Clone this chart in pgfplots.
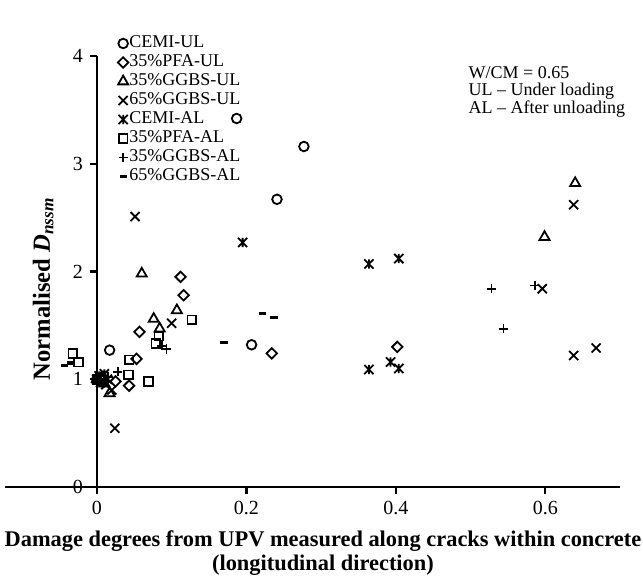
\documentclass[border=0pt]{standalone}
\usepackage{fontspec}
\setmainfont{Liberation Serif}
\usepackage{pgfplots}
\pgfplotsset{compat=1.18}
\usetikzlibrary{calc}

% Excel-like star: a cross with a vertical bar
\pgfdeclareplotmark{xstar}{%
  \pgfpathmoveto{\pgfqpoint{-\pgfplotmarksize}{-\pgfplotmarksize}}%
  \pgfpathlineto{\pgfqpoint{\pgfplotmarksize}{\pgfplotmarksize}}%
  \pgfpathmoveto{\pgfqpoint{-\pgfplotmarksize}{\pgfplotmarksize}}%
  \pgfpathlineto{\pgfqpoint{\pgfplotmarksize}{-\pgfplotmarksize}}%
  \pgfpathmoveto{\pgfqpoint{0pt}{-\pgfplotmarksize}}%
  \pgfpathlineto{\pgfqpoint{0pt}{\pgfplotmarksize}}%
  \pgfusepathqstroke}

\begin{document}
\begin{tikzpicture}
\begin{axis}[
    scale only axis,
    width=307.5pt, height=215.5pt,
    xmin=-0.123, xmax=0.70, ymin=0, ymax=4,
    axis x line=bottom, axis y line=middle,
    x axis line style={-}, y axis line style={-},
    axis line style={line width=1.2pt},
    tick align=outside,
    major tick length=3.5pt,
    tick style={line width=1.2pt, black},
    xtick={0,0.2,0.4,0.6}, ytick={0,1,2,3,4},
    hide obscured x ticks=false, hide obscured y ticks=false,
    /pgf/number format/assume math mode=true,
    ticklabel style={font=\fontsize{10}{12}\selectfont},
    every axis x label/.style={at={(axis description cs:0.517,0)}, anchor=north, yshift=-18.5pt,
        align=center, font=\fontsize{11.2}{12}\selectfont\bfseries},
    every axis y label/.style={at={(axis description cs:0.062,0.46)}, rotate=90, anchor=center,
        font=\fontsize{12.3}{14}\selectfont\bfseries},
    xlabel={Damage degrees from UPV measured along cracks within concrete\\(longitudinal direction)},
    ylabel={Normalised \textit{D}\textsubscript{\textit{nssm}}},
    legend style={at={(axis description cs:0.183,1.052)}, anchor=north west, draw=none, fill=none,
        font=\fontsize{9}{9}\selectfont, inner sep=0pt, row sep=0pt,
        nodes={inner sep=0.5pt, text height=6.5pt, text depth=2pt},
        /tikz/every odd column/.append style={column sep=0pt}},
    legend cell align=left,
    legend image code/.code={\draw[#1] plot coordinates {(0pt,0pt)};},
    every axis plot/.append style={only marks, black, line width=0.9pt, mark options={solid}},
    clip=false,
]
\addplot[mark=o, mark size=2.4pt] coordinates {
    (0,1) (0.006,1.02) (0.017,1.27) (0.187,3.42) (0.277,3.16) (0.241,2.67) (0.207,1.32)
};
\addplot[mark=square, mark size=1.85pt, mark options={rotate=45}] coordinates {
    (0,1) (0.008,0.99) (0.025,0.98) (0.043,0.94) (0.053,1.19) (0.057,1.44)
    (0.112,1.95) (0.116,1.78) (0.234,1.24) (0.402,1.30)
};
\addplot[mark=triangle, mark size=2.9pt] coordinates {
    (0,1) (0.010,0.96) (0.017,0.87) (0.060,1.98) (0.076,1.56) (0.084,1.47)
    (0.107,1.64) (0.599,2.32) (0.640,2.82)
};
\addplot[mark=x, mark size=3.2pt] coordinates {
    (0,1) (0.012,0.95) (0.020,0.90) (0.024,0.545) (0.051,2.51) (0.100,1.52)
    (0.596,1.84) (0.638,2.62) (0.638,1.22) (0.668,1.29)
};
\addplot[mark=xstar, mark size=2.3pt] coordinates {
    (0,1) (0.003,1.03) (0.005,0.97) (0.010,1.05) (0.014,1.0) (0.195,2.27) (0.364,2.07) (0.404,2.12)
    (0.393,1.16) (0.404,1.10) (0.364,1.09)
};
\addplot[mark=square, mark size=2.2pt] coordinates {
    (0,1) (0.004,1.01) (-0.032,1.24) (-0.025,1.16) (0.042,1.04) (0.043,1.18) (0.069,0.98)
    (0.079,1.33) (0.083,1.40) (0.127,1.55)
};
\addplot[mark=+, mark size=2.3pt] coordinates {
    (0,1) (0.015,1.02) (0.028,1.07) (0.087,1.31) (0.093,1.28) (0.528,1.84)
    (0.586,1.87) (0.544,1.47)
};
\addplot[mark=-, mark size=1.8pt, line width=1.6pt] coordinates {
    (0,1) (0.002,0.99) (-0.043,1.13) (-0.035,1.15) (0.170,1.34) (0.222,1.61) (0.237,1.57)
};
\legend{CEMI-UL, 35\%PFA-UL, 35\%GGBS-UL, 65\%GGBS-UL, CEMI-AL, 35\%PFA-AL, 35\%GGBS-AL, 65\%GGBS-AL}
\node[anchor=north west, align=left, inner sep=0pt, font=\fontsize{9}{8.8}\selectfont]
    at (axis cs:0.497,3.91) {W/CM = 0.65\\UL -- Under loading\\AL -- After unloading};
\end{axis}
\pgfresetboundingbox
\path[use as bounding box] ($(current axis.south west)+(-2.5pt,-45pt)$) rectangle ($(current axis.south west)+(319pt,243.5pt)$);
\end{tikzpicture}
\end{document}
